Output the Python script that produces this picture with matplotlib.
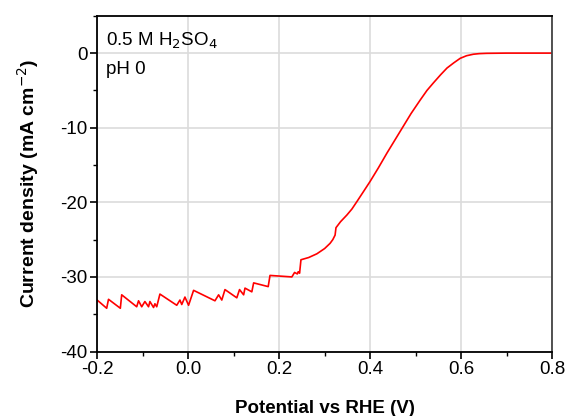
import numpy as np
import matplotlib
matplotlib.use("Agg")
import matplotlib.pyplot as plt
from matplotlib.ticker import MultipleLocator

plt.rcParams["font.family"] = ["Liberation Sans", "DejaVu Sans"]

# potential (V vs RHE) and current density (mA cm-2)
potential = [-0.200, -0.179, -0.175, -0.149, -0.146, -0.113, -0.109, -0.102, -0.095,
             -0.087, -0.084, -0.076, -0.073, -0.069, -0.062, -0.025, -0.018, -0.014,
             -0.007, 0.001, 0.012, 0.059, 0.067, 0.074, 0.081, 0.107, 0.113, 0.122,
             0.125, 0.140, 0.144, 0.176, 0.180, 0.228, 0.234, 0.240, 0.242, 0.245,
             0.248, 0.265, 0.283, 0.300, 0.312, 0.318, 0.323, 0.325, 0.335, 0.349,
             0.360, 0.371, 0.385, 0.400, 0.418, 0.437, 0.453, 0.470, 0.490, 0.510,
             0.525, 0.539, 0.555, 0.569, 0.584, 0.598, 0.612, 0.627, 0.640, 0.656,
             0.700, 0.760, 0.800]
current = [-33.1, -34.2, -33.0, -34.2, -32.4, -34.0, -33.2, -34.0, -33.3,
           -34.0, -33.3, -34.1, -33.6, -34.0, -32.3, -33.8, -33.1, -33.7,
           -32.7, -33.8, -31.8, -33.2, -32.4, -33.1, -31.7, -32.8, -31.7, -32.4,
           -31.5, -32.0, -30.8, -31.3, -29.8, -30.0, -29.4, -29.6, -29.3, -29.5,
           -27.7, -27.4, -26.9, -26.2, -25.5, -25.0, -24.4, -23.4, -22.6, -21.7,
           -20.9, -19.9, -18.6, -17.2, -15.4, -13.4, -11.8, -10.1, -8.1, -6.3,
           -5.0, -4.0, -2.9, -2.0, -1.3, -0.7, -0.35, -0.15, -0.07, -0.03,
           0.0, 0.0, 0.0]

fig = plt.figure(figsize=(5.68, 4.16), dpi=100)
ax = fig.add_axes([0.171, 0.155, 0.801, 0.807])

ax.plot(potential, current, color="red", lw=1.2)

ax.set_xlim(-0.2, 0.8)
ax.set_ylim(-40, 5)
ax.xaxis.set_major_locator(MultipleLocator(0.2))
ax.xaxis.set_minor_locator(MultipleLocator(0.1))
ax.yaxis.set_major_locator(MultipleLocator(10))
ax.yaxis.set_minor_locator(MultipleLocator(5))
ax.set_xticks([-0.2, 0.0, 0.2, 0.4, 0.6, 0.8])
ax.set_xticklabels(["-0.2", "0.0", "0.2", "0.4", "0.6", "0.8"])
ax.set_yticks([-40, -30, -20, -10, 0])
ax.set_yticklabels(["-40", "-30", "-20", "-10", "0"])

ax.grid(True, which="major", color="#dcdcdc", lw=1.2)
ax.set_axisbelow(True)
ax.tick_params(which="major", direction="out", length=5, width=1.2, labelsize=13.5, pad=2)
ax.tick_params(which="minor", direction="out", length=3, width=1.0)
for s in ax.spines.values():
    s.set_linewidth(1.3)
ax.spines["right"].set_color("#444444")

ax.set_xlabel("Potential vs RHE (V)", fontsize=13.5, fontweight="bold", labelpad=16)
ax.set_ylabel("Current density (mA cm$^{-2}$)", fontsize=14, fontweight="bold", labelpad=14)

ax.text(0.02, 0.955, "0.5 M H$_2$SO$_4$", transform=ax.transAxes, fontsize=13.5,
        va="top", ha="left")
ax.text(0.02, 0.865, "pH 0", transform=ax.transAxes, fontsize=13.5,
        va="top", ha="left")

fig.savefig("out.png", dpi=100)
